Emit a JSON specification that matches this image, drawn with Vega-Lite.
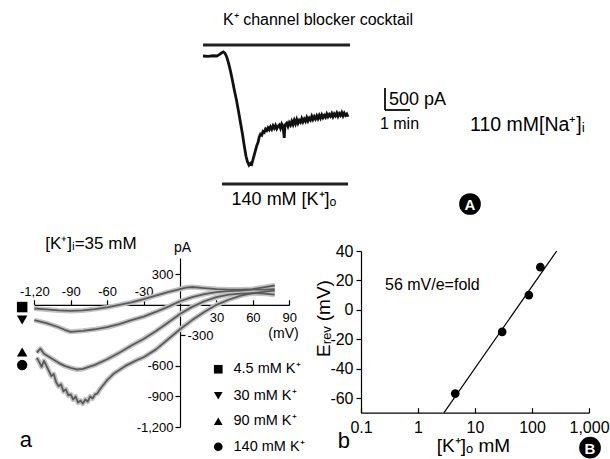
{
  "$schema": "https://vega.github.io/schema/vega-lite/v6.json",
  "width": 610,
  "height": 459,
  "autosize": {"type": "none"},
  "padding": 0,
  "background": "white",
  "config": {
    "view": {"stroke": null},
    "font": "Liberation Sans",
    "text": {"font": "Liberation Sans", "color": "#000"},
    "axis": {"grid": false, "labelColor": "#000", "titleColor": "#000", "domainColor": "#000", "tickColor": "#000", "labelFont": "Liberation Sans", "titleFont": "Liberation Sans", "titleFontWeight": "normal", "labelFlush": false, "labelOverlap": false, "domainWidth": 1.2, "tickWidth": 1.2},
    "legend": {"labelFont": "Liberation Sans", "labelColor": "#000"}
  },
  "datasets": {
    "trace": [
      {"t": 0, "i": 0}, {"t": 0.2, "i": -10}, {"t": 0.4, "i": 5}, {"t": 0.55, "i": 0}, {"t": 0.65, "i": 30}, {"t": 0.75, "i": 70}, {"t": 0.82, "i": 90}, {"t": 0.88, "i": 60}, {"t": 0.95, "i": -20},
      {"t": 1.02, "i": -150}, {"t": 1.1, "i": -330}, {"t": 1.18, "i": -540}, {"t": 1.26, "i": -760}, {"t": 1.34, "i": -960}, {"t": 1.42, "i": -1200}, {"t": 1.5, "i": -1450}, {"t": 1.58, "i": -1700}, {"t": 1.65, "i": -1950}, {"t": 1.72, "i": -2180}, {"t": 1.78, "i": -2300}, {"t": 1.84, "i": -2370}, {"t": 1.9, "i": -2330}, {"t": 1.95, "i": -2350},
      {"t": 2.0, "i": -2250}, {"t": 2.05, "i": -2150}, {"t": 2.1, "i": -2050}, {"t": 2.15, "i": -1950}, {"t": 2.2, "i": -1880}, {"t": 2.25, "i": -1760}, {"t": 2.3, "i": -1700}, {"t": 2.35, "i": -1720}, {"t": 2.4, "i": -1640}, {"t": 2.45, "i": -1660}, {"t": 2.5, "i": -1590}, {"t": 2.55, "i": -1620}, {"t": 2.6, "i": -1560}, {"t": 2.65, "i": -1600}, {"t": 2.7, "i": -1540}, {"t": 2.75, "i": -1590}, {"t": 2.8, "i": -1520}, {"t": 2.85, "i": -1570}, {"t": 2.9, "i": -1510}, {"t": 2.95, "i": -1580},
      {"t": 3.0, "i": -1530}, {"t": 3.05, "i": -1500}, {"t": 3.1, "i": -1570}, {"t": 3.15, "i": -1480}, {"t": 3.2, "i": -1530}, {"t": 3.25, "i": -1780}, {"t": 3.28, "i": -1500}, {"t": 3.35, "i": -1460}, {"t": 3.4, "i": -1530}, {"t": 3.45, "i": -1450}, {"t": 3.5, "i": -1500}, {"t": 3.55, "i": -1420}, {"t": 3.6, "i": -1490}, {"t": 3.65, "i": -1400}, {"t": 3.7, "i": -1470}, {"t": 3.75, "i": -1380}, {"t": 3.8, "i": -1460}, {"t": 3.85, "i": -1400}, {"t": 3.9, "i": -1440}, {"t": 3.95, "i": -1360},
      {"t": 4.0, "i": -1430}, {"t": 4.05, "i": -1370}, {"t": 4.1, "i": -1420}, {"t": 4.15, "i": -1340}, {"t": 4.2, "i": -1410}, {"t": 4.25, "i": -1350}, {"t": 4.3, "i": -1390}, {"t": 4.35, "i": -1310}, {"t": 4.4, "i": -1380}, {"t": 4.45, "i": -1320}, {"t": 4.5, "i": -1370}, {"t": 4.55, "i": -1300}, {"t": 4.6, "i": -1360}, {"t": 4.65, "i": -1290}, {"t": 4.7, "i": -1350}, {"t": 4.75, "i": -1280}, {"t": 4.8, "i": -1340}, {"t": 4.85, "i": -1290}, {"t": 4.9, "i": -1330}, {"t": 4.95, "i": -1260},
      {"t": 5.0, "i": -1320}, {"t": 5.05, "i": -1270}, {"t": 5.1, "i": -1310}, {"t": 5.15, "i": -1250}, {"t": 5.2, "i": -1320}, {"t": 5.25, "i": -1260}, {"t": 5.3, "i": -1300}, {"t": 5.35, "i": -1240}, {"t": 5.4, "i": -1310}, {"t": 5.45, "i": -1250}, {"t": 5.5, "i": -1290}, {"t": 5.55, "i": -1230}, {"t": 5.6, "i": -1300}, {"t": 5.65, "i": -1240}, {"t": 5.7, "i": -1290}, {"t": 5.75, "i": -1260}, {"t": 5.8, "i": -1320}
    ],
    "iv": [
      {"s": "4.5 mM K⁺", "v": -120, "i": -36}, {"s": "4.5 mM K⁺", "v": -110, "i": -45}, {"s": "4.5 mM K⁺", "v": -100, "i": -55}, {"s": "4.5 mM K⁺", "v": -90, "i": -60}, {"s": "4.5 mM K⁺", "v": -80, "i": -55}, {"s": "4.5 mM K⁺", "v": -70, "i": -42}, {"s": "4.5 mM K⁺", "v": -60, "i": -25}, {"s": "4.5 mM K⁺", "v": -50, "i": 0}, {"s": "4.5 mM K⁺", "v": -40, "i": 25}, {"s": "4.5 mM K⁺", "v": -30, "i": 55}, {"s": "4.5 mM K⁺", "v": -20, "i": 90}, {"s": "4.5 mM K⁺", "v": -10, "i": 125}, {"s": "4.5 mM K⁺", "v": 0, "i": 155}, {"s": "4.5 mM K⁺", "v": 5, "i": 170}, {"s": "4.5 mM K⁺", "v": 10, "i": 175}, {"s": "4.5 mM K⁺", "v": 20, "i": 165}, {"s": "4.5 mM K⁺", "v": 30, "i": 155}, {"s": "4.5 mM K⁺", "v": 40, "i": 150}, {"s": "4.5 mM K⁺", "v": 50, "i": 150}, {"s": "4.5 mM K⁺", "v": 60, "i": 155}, {"s": "4.5 mM K⁺", "v": 70, "i": 175}, {"s": "4.5 mM K⁺", "v": 78, "i": 190},
      {"s": "30 mM K⁺", "v": -120, "i": -150}, {"s": "30 mM K⁺", "v": -115, "i": -165}, {"s": "30 mM K⁺", "v": -110, "i": -180}, {"s": "30 mM K⁺", "v": -100, "i": -220}, {"s": "30 mM K⁺", "v": -95, "i": -245}, {"s": "30 mM K⁺", "v": -90, "i": -265}, {"s": "30 mM K⁺", "v": -85, "i": -260}, {"s": "30 mM K⁺", "v": -80, "i": -255}, {"s": "30 mM K⁺", "v": -70, "i": -240}, {"s": "30 mM K⁺", "v": -60, "i": -220}, {"s": "30 mM K⁺", "v": -50, "i": -190}, {"s": "30 mM K⁺", "v": -40, "i": -150}, {"s": "30 mM K⁺", "v": -30, "i": -115}, {"s": "30 mM K⁺", "v": -20, "i": -70}, {"s": "30 mM K⁺", "v": -10, "i": -20}, {"s": "30 mM K⁺", "v": 0, "i": 35}, {"s": "30 mM K⁺", "v": 10, "i": 75}, {"s": "30 mM K⁺", "v": 20, "i": 105}, {"s": "30 mM K⁺", "v": 30, "i": 125}, {"s": "30 mM K⁺", "v": 40, "i": 135}, {"s": "30 mM K⁺", "v": 50, "i": 140}, {"s": "30 mM K⁺", "v": 60, "i": 150}, {"s": "30 mM K⁺", "v": 70, "i": 150}, {"s": "30 mM K⁺", "v": 78, "i": 155},
      {"s": "90 mM K⁺", "v": -118, "i": -470}, {"s": "90 mM K⁺", "v": -115, "i": -430}, {"s": "90 mM K⁺", "v": -112, "i": -480}, {"s": "90 mM K⁺", "v": -108, "i": -510}, {"s": "90 mM K⁺", "v": -100, "i": -570}, {"s": "90 mM K⁺", "v": -95, "i": -600}, {"s": "90 mM K⁺", "v": -90, "i": -620}, {"s": "90 mM K⁺", "v": -85, "i": -635}, {"s": "90 mM K⁺", "v": -80, "i": -630}, {"s": "90 mM K⁺", "v": -75, "i": -610}, {"s": "90 mM K⁺", "v": -70, "i": -590}, {"s": "90 mM K⁺", "v": -60, "i": -535}, {"s": "90 mM K⁺", "v": -50, "i": -470}, {"s": "90 mM K⁺", "v": -40, "i": -400}, {"s": "90 mM K⁺", "v": -30, "i": -335}, {"s": "90 mM K⁺", "v": -20, "i": -260}, {"s": "90 mM K⁺", "v": -10, "i": -175}, {"s": "90 mM K⁺", "v": 0, "i": -90}, {"s": "90 mM K⁺", "v": 10, "i": -20}, {"s": "90 mM K⁺", "v": 20, "i": 35}, {"s": "90 mM K⁺", "v": 30, "i": 75}, {"s": "90 mM K⁺", "v": 40, "i": 100}, {"s": "90 mM K⁺", "v": 50, "i": 110}, {"s": "90 mM K⁺", "v": 60, "i": 115}, {"s": "90 mM K⁺", "v": 70, "i": 110}, {"s": "90 mM K⁺", "v": 78, "i": 100},
      {"s": "140 mM K⁺", "v": -118, "i": -520}, {"s": "140 mM K⁺", "v": -116, "i": -560}, {"s": "140 mM K⁺", "v": -114, "i": -610}, {"s": "140 mM K⁺", "v": -112, "i": -550}, {"s": "140 mM K⁺", "v": -110, "i": -600}, {"s": "140 mM K⁺", "v": -108, "i": -650}, {"s": "140 mM K⁺", "v": -106, "i": -700}, {"s": "140 mM K⁺", "v": -104, "i": -680}, {"s": "140 mM K⁺", "v": -102, "i": -760}, {"s": "140 mM K⁺", "v": -100, "i": -800}, {"s": "140 mM K⁺", "v": -98, "i": -780}, {"s": "140 mM K⁺", "v": -96, "i": -850}, {"s": "140 mM K⁺", "v": -94, "i": -830}, {"s": "140 mM K⁺", "v": -92, "i": -890}, {"s": "140 mM K⁺", "v": -90, "i": -880}, {"s": "140 mM K⁺", "v": -88, "i": -930}, {"s": "140 mM K⁺", "v": -86, "i": -900}, {"s": "140 mM K⁺", "v": -84, "i": -960}, {"s": "140 mM K⁺", "v": -82, "i": -940}, {"s": "140 mM K⁺", "v": -80, "i": -970}, {"s": "140 mM K⁺", "v": -78, "i": -930}, {"s": "140 mM K⁺", "v": -76, "i": -950}, {"s": "140 mM K⁺", "v": -74, "i": -900}, {"s": "140 mM K⁺", "v": -72, "i": -920}, {"s": "140 mM K⁺", "v": -70, "i": -880}, {"s": "140 mM K⁺", "v": -68, "i": -870}, {"s": "140 mM K⁺", "v": -66, "i": -830}, {"s": "140 mM K⁺", "v": -64, "i": -800}, {"s": "140 mM K⁺", "v": -62, "i": -770}, {"s": "140 mM K⁺", "v": -60, "i": -740}, {"s": "140 mM K⁺", "v": -55, "i": -680}, {"s": "140 mM K⁺", "v": -50, "i": -640}, {"s": "140 mM K⁺", "v": -45, "i": -600}, {"s": "140 mM K⁺", "v": -40, "i": -570}, {"s": "140 mM K⁺", "v": -35, "i": -540}, {"s": "140 mM K⁺", "v": -30, "i": -515}, {"s": "140 mM K⁺", "v": -20, "i": -440}, {"s": "140 mM K⁺", "v": -10, "i": -340}, {"s": "140 mM K⁺", "v": 0, "i": -240}, {"s": "140 mM K⁺", "v": 10, "i": -150}, {"s": "140 mM K⁺", "v": 20, "i": -70}, {"s": "140 mM K⁺", "v": 30, "i": 0}, {"s": "140 mM K⁺", "v": 40, "i": 50}, {"s": "140 mM K⁺", "v": 50, "i": 90}, {"s": "140 mM K⁺", "v": 60, "i": 115}, {"s": "140 mM K⁺", "v": 70, "i": 130}, {"s": "140 mM K⁺", "v": 78, "i": 140}
    ],
    "markers": [
      {"s": "4.5 mM K⁺", "v": -130, "i": -22},
      {"s": "30 mM K⁺", "v": -130, "i": -149},
      {"s": "90 mM K⁺", "v": -130, "i": -464},
      {"s": "140 mM K⁺", "v": -130, "i": -592}
    ],
    "erev": [
      {"k": 4.5, "e": -57},
      {"k": 30, "e": -15},
      {"k": 88, "e": 10},
      {"k": 140, "e": 29}
    ],
    "fit": [
      {"k": 2.86, "e": -70},
      {"k": 271, "e": 40}
    ]
  },
  "layer": [
    {
      "layer": [
        {
          "data": {"name": "trace"},
          "mark": {"type": "line", "color": "#111", "strokeWidth": 2.8},
          "encoding": {
            "x": {"field": "t", "type": "quantitative", "scale": {"domain": [0, 10], "range": [203, 453], "nice": false, "zero": false}, "axis": null},
            "y": {"field": "i", "type": "quantitative", "scale": {"domain": [-3000, 1000], "range": [194, 10], "nice": false, "zero": false}, "axis": null}
          }
        },
        {
          "data": {"values": [{}]},
          "mark": {"type": "rule", "strokeWidth": 3, "color": "#222"},
          "encoding": {"x": {"datum": 0, "axis": null}, "x2": {"datum": 5.88}, "y": {"datum": 239, "axis": null}}
        },
        {
          "data": {"values": [{}]},
          "mark": {"type": "rule", "strokeWidth": 3, "color": "#222"},
          "encoding": {"x": {"datum": 0.76, "axis": null}, "x2": {"datum": 5.8}, "y": {"datum": -2783, "axis": null}}
        },
        {
          "data": {"values": [{}]},
          "mark": {"type": "rule", "strokeWidth": 2, "color": "#222"},
          "encoding": {"x": {"datum": 7.28, "axis": null}, "y": {"datum": -1174, "axis": null}, "y2": {"datum": -696}}
        },
        {
          "data": {"values": [{}]},
          "mark": {"type": "rule", "strokeWidth": 2, "color": "#222"},
          "encoding": {"x": {"datum": 7.28, "axis": null}, "x2": {"datum": 8.28}, "y": {"datum": -1174, "axis": null}}
        },
        {
          "data": {"values": [{}]},
          "mark": {"type": "text", "fontSize": 16, "align": "center", "baseline": "middle", "text": "K⁺ channel blocker cocktail"},
          "encoding": {"x": {"datum": 4.6, "axis": null}, "y": {"datum": 783, "axis": null}}
        },
        {
          "data": {"values": [{}]},
          "mark": {"type": "text", "fontSize": 18, "align": "center", "baseline": "middle", "text": "140 mM [K⁺]ₒ"},
          "encoding": {"x": {"datum": 3.24, "axis": null}, "y": {"datum": -3130, "axis": null}}
        },
        {
          "data": {"values": [{}]},
          "mark": {"type": "text", "fontSize": 18, "align": "left", "baseline": "middle", "text": "500 pA"},
          "encoding": {"x": {"datum": 7.44, "axis": null}, "y": {"datum": -957, "axis": null}}
        },
        {
          "data": {"values": [{}]},
          "mark": {"type": "text", "fontSize": 16, "align": "center", "baseline": "middle", "text": "1 min"},
          "encoding": {"x": {"datum": 7.86, "axis": null}, "y": {"datum": -1478, "axis": null}}
        },
        {
          "data": {"values": [{}]},
          "mark": {"type": "text", "fontSize": 19.5, "align": "left", "baseline": "middle", "text": "110 mM[Na⁺]ᵢ"},
          "encoding": {"x": {"datum": 10.68, "axis": null}, "y": {"datum": -1500, "axis": null}}
        },
        {
          "data": {"values": [{}]},
          "mark": {"type": "point", "shape": "circle", "filled": true, "color": "#000", "opacity": 1, "size": 470},
          "encoding": {"x": {"datum": 10.68, "axis": null}, "y": {"datum": -3217, "axis": null}}
        },
        {
          "data": {"values": [{}]},
          "mark": {"type": "text", "fontSize": 15, "fontWeight": "bold", "color": "#fff", "align": "center", "baseline": "middle", "text": "A", "dy": 1},
          "encoding": {"x": {"datum": 10.68, "axis": null}, "y": {"datum": -3217, "axis": null}}
        }
      ]
    },
    {
      "layer": [
        {
          "data": {"name": "iv"},
          "mark": {"type": "line", "color": "#c4c4c4", "strokeWidth": 5, "strokeJoin": "round"},
          "encoding": {
            "x": {"field": "v", "type": "quantitative", "scale": {"domain": [-120, 90], "range": [34.3, 289.3], "nice": false, "zero": false},
                  "axis": {"orient": "bottom", "offset": -154.2, "values": [30, 60, 90], "tickSize": -5, "labelPadding": 12, "labelFontSize": 13, "domain": true, "title": "(mV)", "titleFontSize": 14, "titleX": 283, "titleY": 29, "titleAlign": "center", "titleBaseline": "middle"}},
            "y": {"field": "i", "type": "quantitative", "scale": {"domain": [-1200, 460], "range": [427, 258], "nice": false, "zero": false},
                  "axis": {"orient": "left", "offset": -180, "values": [300, -600, -900, -1200], "format": ",.0f", "labelExpr": "replace(datum.label, '\u2212', '-')", "tickSize": 5, "labelPadding": 2, "labelFontSize": 13, "domain": true, "title": "pA", "titleFontSize": 14, "titleAngle": 0, "titleX": 2, "titleY": 247, "titleAlign": "center", "titleBaseline": "middle"}},
            "detail": {"field": "s"}
          }
        },
        {
          "data": {"name": "iv"},
          "mark": {"type": "line", "color": "#5a5a5a", "strokeWidth": 1.8, "strokeJoin": "round"},
          "encoding": {
            "x": {"field": "v", "type": "quantitative", "axis": null},
            "y": {"field": "i", "type": "quantitative", "axis": null},
            "detail": {"field": "s"}
          }
        },
        {
          "data": {"name": "markers"},
          "mark": {"type": "point", "filled": true, "color": "#000", "opacity": 1, "size": 110},
          "encoding": {
            "x": {"field": "v", "type": "quantitative",
                  "axis": {"orient": "top", "offset": -304.8, "values": [-120, -90, -60, -30], "format": ".0f", "tickSize": 5, "labelPadding": 1, "labelFontSize": 13, "domain": false, "title": null, "labelExpr": "datum.value == -120 ? '-1,20' : replace(datum.label, '\u2212', '-')"}},
            "y": {"field": "i", "type": "quantitative",
                  "axis": {"orient": "right", "offset": -430, "values": [-300], "format": ",.0f", "labelExpr": "replace(datum.label, '\u2212', '-')", "tickSize": 5, "labelPadding": 2, "labelFontSize": 13, "domain": false, "title": null}},
            "shape": {"field": "s", "type": "nominal",
                      "scale": {"domain": ["4.5 mM K⁺", "30 mM K⁺", "90 mM K⁺", "140 mM K⁺"], "range": ["square", "triangle-down", "triangle-up", "circle"]},
                      "legend": {"title": null, "orient": "none", "legendX": 211, "legendY": 362, "symbolSize": 75, "symbolFillColor": "#000", "symbolStrokeColor": "#000", "labelFontSize": 14.5, "rowPadding": 10.5, "labelOffset": 8, "padding": 0}}
          }
        },
        {
          "data": {"values": [{}]},
          "mark": {"type": "text", "fontSize": 17, "align": "left", "baseline": "middle", "text": "[K⁺]ᵢ=35 mM"},
          "encoding": {"x": {"datum": -111, "axis": null}, "y": {"datum": 597, "axis": null}}
        },
        {
          "data": {"values": [{}]},
          "mark": {"type": "text", "fontSize": 22, "align": "center", "baseline": "middle", "text": "a"},
          "encoding": {"x": {"datum": -127, "axis": null}, "y": {"datum": -1328, "axis": null}}
        }
      ],
      "resolve": {"axis": {"x": "independent", "y": "independent"}}
    },
    {
      "layer": [
        {
          "data": {"name": "fit"},
          "mark": {"type": "line", "color": "#000", "strokeWidth": 1.2},
          "encoding": {
            "x": {"field": "k", "type": "quantitative", "scale": {"type": "log", "domain": [0.1, 1000], "range": [361, 589], "nice": false},
                  "axis": {"orient": "bottom", "offset": -46.3, "values": [0.1, 1, 10, 100, 1000], "labelExpr": "datum.value == 1000 ? '1,000' : datum.value == 0.1 ? '0.1' : datum.value == 1 ? '1' : datum.value == 10 ? '10' : '100'", "tickSize": -5, "labelPadding": 12, "labelFontSize": 16, "title": "[K⁺]ₒ mM", "titleFontSize": 19, "titleX": 473, "titleY": 33, "titleAlign": "center", "titleBaseline": "middle"}},
            "y": {"field": "e", "type": "quantitative", "scale": {"domain": [-70, 40], "range": [412.7, 251], "nice": false, "zero": false},
                  "axis": {"orient": "left", "offset": -361, "values": [-60, -40, -20, 0, 20, 40], "format": ".0f", "labelExpr": "replace(datum.label, '\u2212', '-')", "tickSize": 5, "labelPadding": 3, "labelFontSize": 16, "title": "Eᵣₑᵥ (mV)", "titleFontSize": 19, "titleAngle": -90, "titleX": -38, "titleY": 318, "titleAlign": "center", "titleBaseline": "middle"}}
          }
        },
        {
          "data": {"name": "erev"},
          "mark": {"type": "point", "shape": "circle", "filled": true, "color": "#000", "opacity": 1, "size": 75},
          "encoding": {
            "x": {"field": "k", "type": "quantitative", "axis": null},
            "y": {"field": "e", "type": "quantitative", "axis": null}
          }
        },
        {
          "data": {"values": [{}]},
          "mark": {"type": "text", "fontSize": 16, "align": "left", "baseline": "middle", "text": "56 mV/e=fold"},
          "encoding": {"x": {"datum": 0.264, "axis": null}, "y": {"datum": 16.8, "axis": null}}
        },
        {
          "data": {"values": [{}]},
          "mark": {"type": "text", "fontSize": 22, "align": "center", "baseline": "middle", "text": "b"},
          "encoding": {"x": {"datum": 0.0503, "axis": null}, "y": {"datum": -89, "axis": null}}
        },
        {
          "data": {"values": [{}]},
          "mark": {"type": "point", "shape": "circle", "filled": true, "color": "#000", "opacity": 1, "size": 470},
          "encoding": {"x": {"datum": 1042, "axis": null}, "y": {"datum": -93.8, "axis": null}}
        },
        {
          "data": {"values": [{}]},
          "mark": {"type": "text", "fontSize": 15, "fontWeight": "bold", "color": "#fff", "align": "center", "baseline": "middle", "text": "B", "dy": 1},
          "encoding": {"x": {"datum": 1042, "axis": null}, "y": {"datum": -93.8, "axis": null}}
        }
      ],
      "resolve": {"axis": {"x": "independent", "y": "independent"}}
    }
  ],
  "resolve": {"scale": {"x": "independent", "y": "independent", "shape": "independent"}, "axis": {"x": "independent", "y": "independent"}}
}
